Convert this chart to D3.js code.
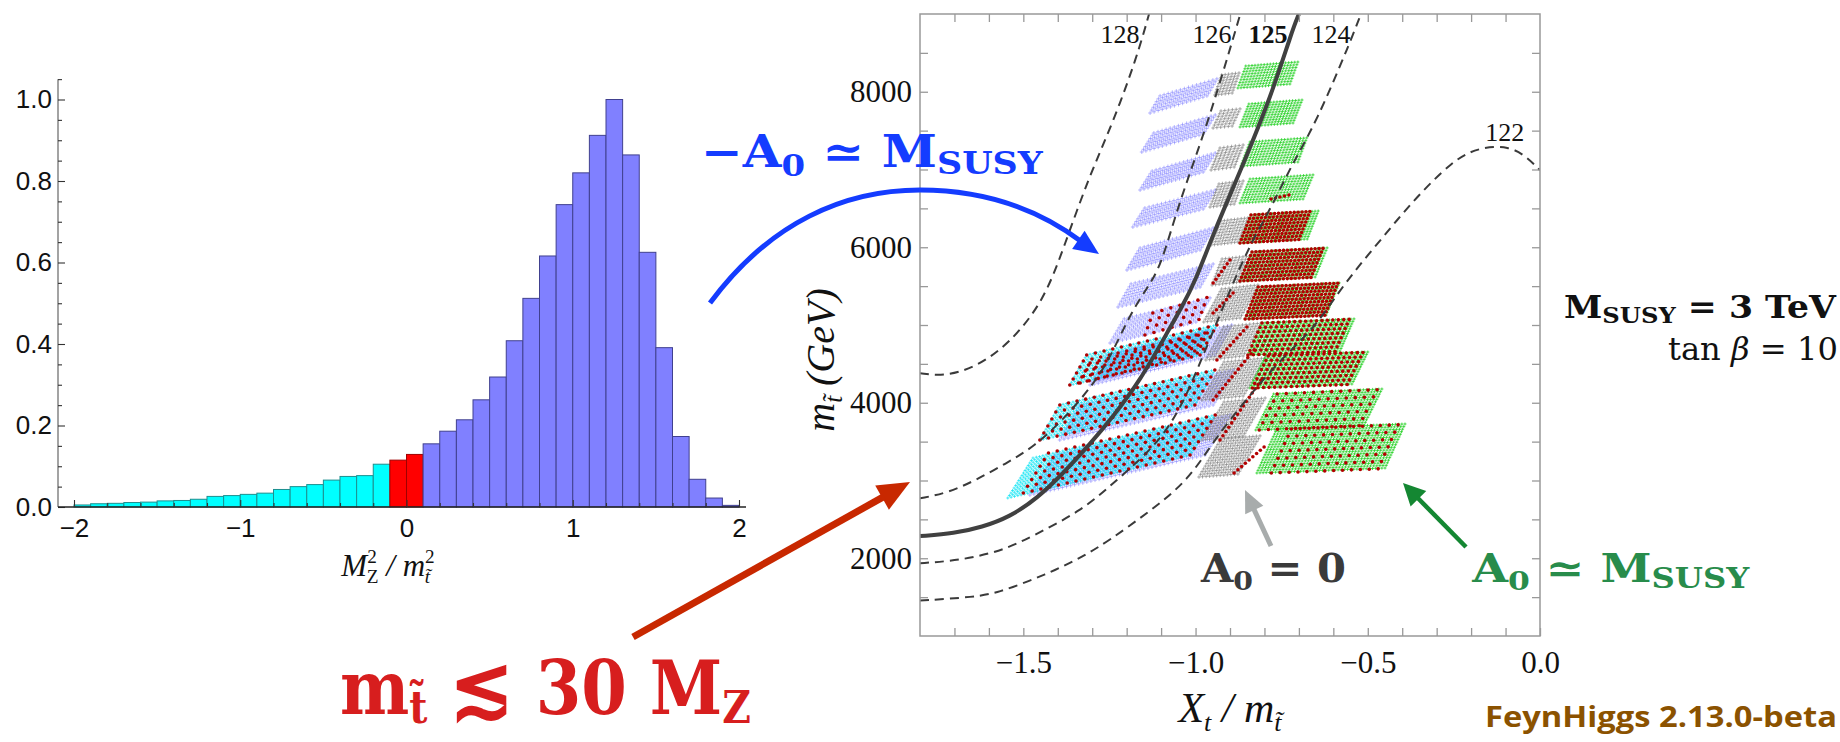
<!DOCTYPE html>
<html>
<head>
<meta charset="utf-8">
<script src="https://cdn.jsdelivr.net/npm/d3@7"></script>
<style>
html,body{margin:0;padding:0;background:#fff;}
svg{display:block;}
text{white-space:pre;}
</style>
</head>
<body>
<svg id="chart" width="1840" height="742" xmlns="http://www.w3.org/2000/svg"></svg>
<script>
// ======================= DATA =======================
// Left panel: normalised histogram of M_Z^2 / m_stop^2, bins of width 0.1 starting at -2
const histBinStart = -2.0;
const histBinWidth = 0.1;
const histCyan = [0.005,0.008,0.009,0.011,0.012,0.015,0.016,0.019,0.026,0.028,0.031,0.034,0.043,0.050,0.055,0.066,0.075,0.077,0.105];
const histRed  = [0.115,0.129];
const histBlue = [0.155,0.186,0.214,0.263,0.319,0.408,0.512,0.616,0.742,0.820,0.912,1.000,0.864,0.625,0.391,0.173,0.068,0.022,0.004];
const histXTicks = [-2,-1,0,1,2];
const histYTicks = [0,0.2,0.4,0.6,0.8,1.0];

// Right panel: Xt/m_stop (x) vs m_stop in GeV (y)
const xtTicks  = [-1.5,-1.0,-0.5,0.0];
const mstTicks = [2000,4000,6000,8000];

// Higgs-mass contours [Xt/mstop, mstop]
const contour128 = [[-1.80,4380],[-1.73,4340],[-1.64,4450],[-1.54,4760],[-1.44,5310],[-1.38,6030],[-1.31,6900],[-1.24,7600],[-1.17,8450],[-1.135,9000]];
const contour126 = [[-1.80,2770],[-1.72,2840],[-1.64,3000],[-1.55,3220],[-1.47,3430],[-1.38,3800],[-1.30,4220],[-1.25,4560],[-1.19,5140],[-1.14,5480],[-1.10,5760],[-1.05,6550],[-0.97,7520],[-0.90,8550],[-0.87,9000]];
const contour125 = [[-1.80,2285],[-1.70,2320],[-1.62,2400],[-1.54,2530],[-1.46,2770],[-1.385,3090],[-1.31,3450],[-1.24,3820],[-1.16,4290],[-1.08,4920],[-1.04,5230],[-1.00,5570],[-0.95,6160],[-0.865,7030],[-0.78,7950],[-0.72,8780],[-0.70,9000]];
const contour124 = [[-1.80,1936],[-1.72,1960],[-1.64,2013],[-1.55,2120],[-1.48,2270],[-1.33,2610],[-1.23,3000],[-1.12,3430],[-1.06,3810],[-1.02,4160],[-0.96,4800],[-0.90,5450],[-0.84,6050],[-0.78,6510],[-0.72,7070],[-0.65,7600],[-0.55,8650],[-0.52,9000]];
const contour122 = [[-1.80,1456],[-1.64,1500],[-1.57,1563],[-1.48,1713],[-1.41,1842],[-1.33,2013],[-1.25,2230],[-1.13,2613],[-1.02,3006],[-0.946,3521],[-0.85,4060],[-0.75,4570],[-0.65,4980],[-0.57,5530],[-0.45,6160],[-0.38,6540],[-0.25,7140],[-0.17,7290],[-0.09,7300],[-0.04,7170],[0.0,6990]];
const contourNames = ['128','126','125','124','122'];
const contourLabelAt = [[-1.219,8627],[-0.952,8627],[-0.790,8627],[-0.607,8627],[-0.102,7367]];

// Scan blocks: [Xt0, m0, Xt1, m1, dXt, dm]  (bottom edge from point 0 to point 1, stacked by (dXt,dm))
const blueBlocks = [
  [-1.132,7727,-0.967,7946,0.029,219],
  [-1.156,7225,-0.978,7457,0.035,244],
  [-1.161,6736,-0.978,6968,0.035,244],
  [-1.182,6261,-0.978,6492,0.035,244],
  [-1.199,5707,-0.987,5965,0.038,283],
  [-1.225,5232,-0.987,5489,0.038,296],
  [-1.248,4769,-0.999,5039,0.041,309],
  [-1.280,4293,-1.010,4589,0.041,334],
  [-1.306,4228,-0.944,4614,0.049,386],
  [-1.394,3521,-0.949,3971,0.058,450],
  [-1.481,2814,-0.973,3328,0.073,514]
];
const cyanBlocks = [
  [-1.365,4228,-0.987,4614,0.049,386],
  [-1.452,3521,-1.002,3971,0.058,450],
  [-1.545,2775,-1.016,3328,0.073,514]
];
const grayBlocks = [
  [-0.944,7958,-0.894,7984,0.020,257],
  [-0.949,7534,-0.894,7560,0.023,219],
  [-0.955,6994,-0.888,7032,0.026,283],
  [-0.958,6518,-0.888,6556,0.026,296],
  [-0.955,6029,-0.877,6068,0.029,309],
  [-0.952,5515,-0.871,5553,0.029,334],
  [-0.976,5039,-0.871,5090,0.052,424],
  [-0.970,4550,-0.862,4601,0.052,424],
  [-0.981,4035,-0.862,4087,0.064,489],
  [-0.981,3521,-0.862,3572,0.064,489],
  [-0.990,3045,-0.877,3084,0.064,489]
];
const greenBlocks = [
  [-0.877,8048,-0.726,8100,0.023,283],
  [-0.871,7547,-0.717,7598,0.026,296],
  [-0.868,7045,-0.703,7097,0.026,309],
  [-0.871,6569,-0.688,6621,0.029,309],
  [-0.871,6055,-0.676,6106,0.032,360],
  [-0.871,5566,-0.653,5618,0.035,373],
  [-0.856,5077,-0.621,5129,0.038,412],
  [-0.848,4614,-0.581,4666,0.041,412],
  [-0.842,4190,-0.546,4241,0.046,412],
  [-0.825,3650,-0.511,3714,0.052,463],
  [-0.822,3097,-0.450,3161,0.058,566]
];
// red points (theory-favoured), [Xt0,m0,Xt1,m1,dXt,dm,density]
const redBlocks = [
  [-0.871,6055,-0.700,6100,0.032,360,'dense'],
  [-0.871,5566,-0.665,5612,0.035,373,'dense'],
  [-0.856,5077,-0.625,5125,0.038,412,'dense'],
  [-0.848,4614,-0.595,4660,0.041,412,'medium'],
  [-0.835,4190,-0.560,4235,0.046,412,'medium'],
  [-0.815,3650,-0.525,3705,0.052,463,'sparse'],
  [-0.780,3097,-0.470,3150,0.058,566,'sparse'],
  [-1.147,4871,-0.990,5070,0.023,283,'sparse'],
  [-1.335,4254,-0.995,4640,0.029,257,'sparse'],
  [-1.365,4228,-0.987,4614,0.049,386,'sparse'],
  [-1.452,3521,-1.002,3971,0.058,450,'sparse'],
  [-1.500,2840,-1.016,3328,0.073,514,'sparse']
];
const redLines = [
  [-0.781,6621,-0.729,6672],
  [-0.949,5540,-0.900,5836],
  [-0.949,5154,-0.891,5412],
  [-0.938,4550,-0.851,4974],
  [-0.949,4035,-0.830,4680],
  [-0.929,3521,-0.810,4290],
  [-0.888,3097,-0.801,3431]
];

// ======================= DRAW =======================
const svg = d3.select('#chart');
svg.append('rect').attr('width',1840).attr('height',742).attr('fill','#fff');

function rich(g, x, y, size, parts, attrs){
  const t = g.append('text').attr('x',x).attr('y',y).attr('font-size',size);
  Object.entries(attrs||{}).forEach(([k,v])=>t.attr(k,v));
  let cur = 0;
  parts.forEach(p=>{
    const dy = p.dy||0;
    const ts = t.append('tspan').text(p.t).attr('dy', dy-cur);
    cur = dy;
    if(p.s) ts.attr('font-size', size*p.s);
    if(p.dx) ts.attr('dx', p.dx);
    if(p.style) ts.attr('font-style', p.style);
    if(p.weight) ts.attr('font-weight', p.weight);
    if(p.family) ts.attr('font-family', p.family);
  });
  return t;
}
function fit(t, x0, x1){
  const bb = t.node().getBBox();
  const sx = (x1-x0)/bb.width;
  t.attr('transform', `translate(${x0},0) scale(${sx},1) translate(${-bb.x},0)`);
}

// ---------- Left histogram ----------
const xh = d3.scaleLinear().domain([-2,2]).range([74,739]);
const yh = d3.scaleLinear().domain([0,1]).range([507,99.5]);
const hLeft = 58, hRight = 746;
const gH = svg.append('g');
const bars = [];
histCyan.forEach((v,i)=>bars.push({lo:histBinStart+i*histBinWidth, v, c:'cyan'}));
histRed.forEach((v,i)=>bars.push({lo:histBinStart+(histCyan.length+i)*histBinWidth, v, c:'red'}));
histBlue.forEach((v,i)=>bars.push({lo:histBinStart+(histCyan.length+histRed.length+i)*histBinWidth, v, c:'blue'}));
const barFill = {cyan:'#00ffff', red:'#ff0000', blue:'#8080ff'};
const barStroke = {cyan:'#1d8f8f', red:'#a00000', blue:'#40408f'};
gH.selectAll('rect.bar').data(bars).join('rect').attr('class','bar')
  .attr('x',d=>xh(d.lo)).attr('width',d=>xh(d.lo+histBinWidth)-xh(d.lo))
  .attr('y',d=>yh(d.v)).attr('height',d=>yh(0)-yh(d.v))
  .attr('fill',d=>barFill[d.c]).attr('stroke',d=>barStroke[d.c]).attr('stroke-width',1);

// y axis
gH.append('line').attr('x1',hLeft).attr('x2',hLeft).attr('y1',yh(0)).attr('y2',yh(1.05)).attr('stroke','#666').attr('stroke-width',1.2);
const yMinor = d3.range(0,22).map(i=>i*0.05).filter(v=>!histYTicks.some(t=>Math.abs(t-v)<1e-9));
const yAxMinor = gH.append('g').attr('transform',`translate(${hLeft},0)`)
  .call(d3.axisLeft(yh).tickValues(yMinor).tickSize(-4).tickFormat(''));
const yAxMajor = gH.append('g').attr('transform',`translate(${hLeft},0)`)
  .call(d3.axisLeft(yh).tickValues(histYTicks).tickSize(-7).tickPadding(6).tickFormat(d3.format('.1f')));
// x axis
gH.append('line').attr('x1',hLeft).attr('x2',hRight).attr('y1',yh(0)).attr('y2',yh(0)).attr('stroke','#222').attr('stroke-width',1.3);
const xMinor = d3.range(-10,11).map(i=>i*0.2).filter(v=>!histXTicks.some(t=>Math.abs(t-v)<1e-9));
const xAxMinor = gH.append('g').attr('transform',`translate(0,${yh(0)})`)
  .call(d3.axisBottom(xh).tickValues(xMinor).tickSize(-4).tickFormat(''));
const xAxMajor = gH.append('g').attr('transform',`translate(0,${yh(0)})`)
  .call(d3.axisBottom(xh).tickValues(histXTicks).tickSize(-7).tickPadding(12).tickFormat(d3.format('d')));
[yAxMinor,yAxMajor,xAxMinor,xAxMajor].forEach(a=>{
  a.select('.domain').remove();
  a.selectAll('line').attr('stroke','#333').attr('stroke-width',1.1);
  a.selectAll('text').attr('font-family','"Liberation Sans", Arial, sans-serif').attr('font-size',26).attr('fill','#111');
});
// histogram x label
rich(gH, 388, 576, 31, [
  {t:'M'},{t:'2',s:0.62,dy:-13,style:'normal'},{t:'Z',s:0.62,dy:7,dx:-10,style:'normal'},
  {t:' / m'},{t:'2',s:0.62,dy:-13,style:'normal'},{t:'t̃',s:0.62,dy:7,dx:-10}
], {'font-family':'"Liberation Serif", serif','font-style':'italic','text-anchor':'middle','fill':'#111'});

// ---------- Right scan plot ----------
const xs = d3.scaleLinear().domain([-1.8,0]).range([920,1540]);
const ys = d3.scaleLinear().domain([1000,9000]).range([636,14]);
const gR = svg.append('g');
svg.append('defs').append('clipPath').attr('id','plotclip').append('rect')
  .attr('x',xs(-1.8)).attr('y',ys(9000)).attr('width',xs(0)-xs(-1.8)).attr('height',ys(1000)-ys(9000));
const gPlot = gR.append('g').attr('clip-path','url(#plotclip)');

function blockPoints(b, spx, spy){
  const [X0,M0,X1,M1,dX,dM] = b;
  const ax = xs(X1)-xs(X0), ay = ys(M1)-ys(M0);
  const bx = xs(X0+dX)-xs(X0), by = ys(M0+dM)-ys(M0);
  const nc = Math.max(1, Math.round(Math.hypot(ax,ay)/spx));
  const nl = Math.max(1, Math.round(Math.hypot(bx,by)/spy));
  const pts = [];
  for(let i=0;i<=nl;i++) for(let j=0;j<=nc;j++){
    const X = X0+(X1-X0)*j/nc+dX*i/nl, M = M0+(M1-M0)*j/nc+dM*i/nl;
    pts.push([xs(X), ys(M)]);
  }
  return pts;
}
function crossPath(pts, r){
  return pts.map(([x,y])=>`M${(x-r).toFixed(1)},${y.toFixed(1)}h${2*r}M${x.toFixed(1)},${(y-r).toFixed(1)}v${2*r}`).join('');
}
function drawBlocks(blocks, color, spx, spy, r, op, sw){
  const pts = blocks.flatMap(b=>blockPoints(b, spx, spy));
  gPlot.append('path').attr('d', crossPath(pts, r)).attr('stroke', color)
    .attr('stroke-width', sw).attr('stroke-opacity', op).attr('fill','none');
}
drawBlocks(blueBlocks, '#7878ff', 4.2, 3.4, 2.0, 0.7, 0.75);
drawBlocks(cyanBlocks, '#10e4f4', 3.4, 3.0, 1.5, 0.9, 0.8);
drawBlocks(grayBlocks, '#7d7d7d', 3.6, 3.1, 1.8, 0.85, 0.75);
drawBlocks(greenBlocks, '#1ccf1c', 3.1, 2.8, 1.5, 0.95, 0.8);

// red points
const redSpacing = {dense:[4.0,3.7], medium:[5.6,5.0], sparse:[9,7.5]};
const redPts = [];
redBlocks.forEach(b=>{ const sp = redSpacing[b[6]]; blockPoints(b, sp[0], sp[1]).forEach(p=>redPts.push(p)); });
redLines.forEach(([X0,M0,X1,M1])=>{
  const L = Math.hypot(xs(X1)-xs(X0), ys(M1)-ys(M0)); const n = Math.max(1,Math.round(L/5));
  for(let k=0;k<=n;k++){ redPts.push([xs(X0+(X1-X0)*k/n), ys(M0+(M1-M0)*k/n)]); }
});
gPlot.selectAll('circle.red').data(redPts).join('circle').attr('class','red')
  .attr('cx',d=>d[0]).attr('cy',d=>d[1]).attr('r',1.8).attr('fill','#b30000');

// contours
const lineGen = d3.line().x(d=>xs(d[0])).y(d=>ys(d[1])).curve(d3.curveBasis);
[contour128, contour126, contour124, contour122].forEach(c=>{
  gPlot.append('path').attr('d', lineGen(c)).attr('fill','none').attr('stroke','#3a3a3a')
    .attr('stroke-width',2).attr('stroke-dasharray','9,6');
});
gPlot.append('path').attr('d', lineGen(contour125)).attr('fill','none').attr('stroke','#404040').attr('stroke-width',4);
contourNames.forEach((n,i)=>{
  gR.append('text').attr('x', xs(contourLabelAt[i][0])).attr('y', ys(contourLabelAt[i][1]))
    .attr('text-anchor','middle').attr('font-family','"Liberation Serif", serif').attr('font-size',26)
    .attr('font-weight', n==='125'?'bold':'normal').attr('fill','#111').text(n);
});

// frame & ticks
gR.append('rect').attr('x',xs(-1.8)).attr('y',ys(9000)).attr('width',xs(0)-xs(-1.8)).attr('height',ys(1000)-ys(9000))
  .attr('fill','none').attr('stroke','#999').attr('stroke-width',1.5);
const mTickVals = d3.range(3,18).map(i=>i*500);
const xTickVals = d3.range(-17,1).map(i=>i/10);
const isMLabel = v=>mstTicks.includes(v);
const isXLabel = v=>xtTicks.some(t=>Math.abs(t-v)<1e-9);
const axL = gR.append('g').attr('transform',`translate(${xs(-1.8)},0)`)
  .call(d3.axisLeft(ys).tickValues(mTickVals).tickSize(-8).tickPadding(8).tickFormat(v=>isMLabel(v)?String(v):''));
const axRt = gR.append('g').attr('transform',`translate(${xs(0)},0)`)
  .call(d3.axisRight(ys).tickValues(mTickVals).tickSize(-8).tickFormat(''));
const axB = gR.append('g').attr('transform',`translate(0,${ys(1000)})`)
  .call(d3.axisBottom(xs).tickValues(xTickVals).tickSize(-8).tickPadding(15).tickFormat(v=>isXLabel(v)?d3.format('.1f')(v):''));
const axT = gR.append('g').attr('transform',`translate(0,${ys(9000)})`)
  .call(d3.axisTop(xs).tickValues(xTickVals.filter(v=>v>-1.75&&v<-0.05)).tickSize(-8).tickFormat(''));
[axL,axRt,axB,axT].forEach(a=>{
  a.select('.domain').remove();
  a.selectAll('line').attr('stroke','#999').attr('stroke-width',1.3);
  a.selectAll('text').attr('font-family','"Liberation Serif", serif').attr('font-size',31).attr('fill','#111');
});
// axis titles
const yl = rich(gR, 0, 0, 40, [{t:'m'},{t:'t̃',s:0.62,dy:8},{t:' (GeV)',dy:0}],
  {'font-family':'"Liberation Serif", serif','font-style':'italic','text-anchor':'middle','fill':'#111'});
yl.attr('transform','translate(834,360) rotate(-90)');
rich(gR, 1230, 722, 42, [{t:'X'},{t:'t',s:0.62,dy:9},{t:' / m',dy:0},{t:'t̃',s:0.62,dy:9}],
  {'font-family':'"Liberation Serif", serif','font-style':'italic','text-anchor':'middle','fill':'#111'});

// ---------- Annotations ----------
const gA = svg.append('g');
const SERIF_B = {'font-family':'"DejaVu Serif", serif','font-weight':'bold'};
function arrowHead(tip, from, len, hw, color){
  const dx = tip[0]-from[0], dy = tip[1]-from[1], L = Math.hypot(dx,dy);
  const ux = dx/L, uy = dy/L, bx = tip[0]-ux*len, by = tip[1]-uy*len;
  gA.append('path').attr('d',`M${tip[0]},${tip[1]}L${bx-uy*hw},${by+ux*hw}L${bx+uy*hw},${by-ux*hw}Z`).attr('fill',color);
  return [bx+ux*2, by+uy*2];
}
function straightArrow(tail, tip, w, len, hw, color){
  const base = arrowHead(tip, tail, len, hw, color);
  gA.append('line').attr('x1',tail[0]).attr('y1',tail[1]).attr('x2',base[0]).attr('y2',base[1])
    .attr('stroke',color).attr('stroke-width',w);
}
// blue curved arrow
const blue = '#143cff';
gA.append('path').attr('d','M710,303 C770,222 845,190 920,190 C990,190 1042,212 1082,242')
  .attr('fill','none').attr('stroke',blue).attr('stroke-width',5);
arrowHead([1099,254],[1080,241],25,11,blue);
const tBlue = rich(gA, 701, 167, 44, [{t:'−A'},{t:'0',s:0.68,dy:9},{t:' ≃ M'},{t:'SUSY',s:0.7,dy:7}], Object.assign({fill:blue},SERIF_B));
fit(tBlue, 701, 1044);

// red arrow + text
const redA = '#c82800';
straightArrow([633,637],[910,482],7,32,14,redA);
const tRed = rich(gA, 340, 714, 74, [{t:'m'},{t:'t̃',s:0.6,dy:9},{t:' '},{t:'≲',s:1.15,dy:2},{t:' 30 M',dy:0},{t:'Z',s:0.6,dy:9}], Object.assign({fill:'#d71e1e'},SERIF_B));
fit(tRed, 340, 751);

// gray arrow + text
straightArrow([1271,546],[1245,490],5,22,10,'#a8acac');
const tGray = rich(gA, 1200, 582, 39, [{t:'A'},{t:'0',s:0.68,dy:8},{t:' = 0'}], Object.assign({fill:'#3a3a3a'},SERIF_B));
fit(tGray, 1200, 1346);

// green arrow + text
straightArrow([1466,547],[1403,483],4.5,22,11,'#148732');
const tGreen = rich(gA, 1471, 582, 39, [{t:'A'},{t:'0',s:0.68,dy:8},{t:' ≃ M'},{t:'SUSY',s:0.7,dy:6}], Object.assign({fill:'#288c4b'},SERIF_B));
fit(tGreen, 1471, 1750);

// parameters
const tMs = rich(gA, 1564, 318, 31, [{t:'M'},{t:'SUSY',s:0.7,dy:5},{t:' = 3 TeV'}], Object.assign({fill:'#111'},SERIF_B));
fit(tMs, 1564, 1837);
const tTb = rich(gA, 1666, 360, 32, [{t:'tan '},{t:'β',style:'italic'},{t:' = 10'}], {'font-family':'"DejaVu Serif", serif',fill:'#111'});
fit(tTb, 1668, 1838);

// FeynHiggs tag
const tFH = gA.append('text').attr('x',1485).attr('y',727).attr('font-family','"Open Sans", sans-serif')
  .attr('font-weight',700).attr('font-size',28).attr('fill','#8b5200').text('FeynHiggs 2.13.0-beta');
fit(tFH, 1485, 1837);
</script>
</body>
</html>
